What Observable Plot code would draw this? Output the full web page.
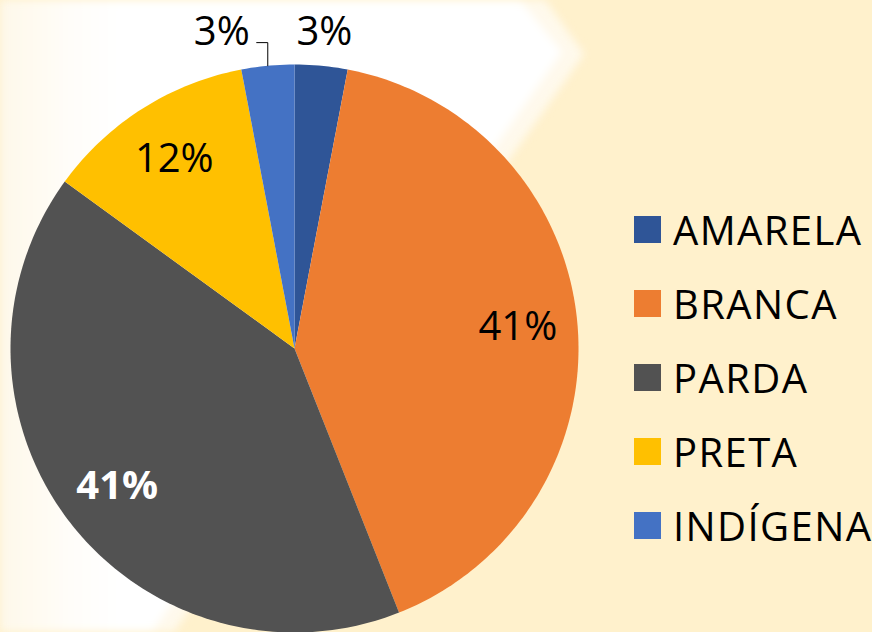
<!DOCTYPE html>
<html>
<head>
<meta charset="utf-8">
<script src="https://cdn.jsdelivr.net/npm/d3@7"></script>
<script src="https://cdn.jsdelivr.net/npm/@observablehq/plot@0.6"></script>
<style>
html, body { margin: 0; padding: 0; background: #FFF1CC; }
#wrap { position: relative; width: 872px; height: 632px; overflow: hidden; background: #FFF1CC; }
.soft { position: absolute; inset: 0; filter: blur(4px); }
.bg-outer { position: absolute; inset: 0; background: #FFF9EC;
  clip-path: polygon(0 0, 545px 0, 584px 54px, 174px 632px, 0 632px); }
.bg-inner { position: absolute; inset: 0;
  background: linear-gradient(to right, #FEF8EA 0px, #FFFBF2 40px, #FFFDF9 70px, #FFFFFF 120px);
  clip-path: polygon(0 0, 520px 0, 562px 52px, 152px 632px, 0 632px); }
#chart { position: absolute; left: 0; top: 0; }
#legend { position: absolute; left: 634px; top: 192px; width: 300px; }
#legend .lg-swatches { font-family: "Open Sans", sans-serif; font-size: 40px; margin: 0; color: #000; letter-spacing: 1.4px; }
#legend .lg-swatch { height: 74px; padding: 0; margin: 0; }
#legend .lg-swatch > svg { margin-right: 12px; }
#legend .lg-swatch-label { overflow: visible !important; text-overflow: clip !important; }
</style>
</head>
<body>
<div id="wrap">
  <div class="soft"><div class="bg-outer"></div><div class="bg-inner"></div></div>
  <div id="chart"></div>
  <div id="legend"></div>
</div>
<script>
const categories = ["AMARELA", "BRANCA", "PARDA", "PRETA", "INDÍGENA"];
const values = [3, 41, 41, 12, 3];
const labels = ["3%", "41%", "41%", "12%", "3%"];
const colors = ["#2F5597", "#ED7D31", "#525252", "#FFC000", "#4472C4"];

const arcs = d3.pie().sort(null).value(d => d)(values);

// slice outlines in unit-circle coordinates (centre, arc, centre)
const slicePts = [];
arcs.forEach((a, i) => {
  const n = Math.max(4, Math.ceil((a.endAngle - a.startAngle) * 180 / Math.PI));
  slicePts.push({cat: categories[i], x: 0, y: 0});
  for (let k = 0; k <= n; k++) {
    const t = a.startAngle + (a.endAngle - a.startAngle) * k / n;
    slicePts.push({cat: categories[i], x: Math.sin(t), y: Math.cos(t)});
  }
  slicePts.push({cat: categories[i], x: 0, y: 0});
});

const inR = 0.79, outR = 1.12;
const labelData = arcs.map((a, i) => {
  const m = (a.startAngle + a.endAngle) / 2;
  const outside = values[i] < 5;
  const r = outside ? outR : inR;
  return {cat: categories[i], label: labels[i], mid: m, outside,
          x: r * Math.sin(m), y: r * Math.cos(m)};
});

// the last small slice gets its label pushed left with a leader line
const led = labelData[labelData.length - 1];
const leaderPts = [
  {x: Math.sin(led.mid), y: Math.cos(led.mid)},
  {x: Math.sin(led.mid), y: led.y - 0.038},
  {x: Math.sin(led.mid) - 0.039, y: led.y - 0.038}
];
const ledLabel = [{label: led.label, x: leaderPts[2].x, y: led.y}];

const plainLabels = labelData.filter(d => d !== led && d.cat !== "PARDA");
const boldLabels = labelData.filter(d => d.cat === "PARDA");

const chart = Plot.plot({
  width: 872,
  height: 632,
  marginLeft: 10,
  marginRight: 294,
  marginTop: 64,
  marginBottom: 0,
  x: {domain: [-1, 1], axis: null},
  y: {domain: [-1, 1], axis: null},
  color: {domain: categories, range: colors},
  style: {background: "transparent", fontFamily: "Open Sans, sans-serif", overflow: "visible"},
  marks: [
    Plot.line(slicePts, {x: "x", y: "y", z: "cat", fill: "cat", stroke: "none"}),
    Plot.line(leaderPts, {x: "x", y: "y", stroke: "#000", strokeWidth: 1}),
    Plot.text(plainLabels, {x: "x", y: "y", text: "label", fill: "#000", fontSize: 40}),
    Plot.text(boldLabels, {x: "x", y: "y", text: "label", fill: "#fff", fontSize: 40, fontWeight: "bold"}),
    Plot.text(ledLabel, {x: "x", y: "y", text: "label", fill: "#000", fontSize: 40, textAnchor: "end", dx: -7})
  ]
});
document.getElementById("chart").appendChild(chart);

const legend = Plot.legend({
  color: {type: "ordinal", domain: categories, range: colors},
  legend: "swatches",
  columns: 1,
  swatchSize: 27,
  className: "lg"
});
document.getElementById("legend").appendChild(legend);
</script>
</body>
</html>
